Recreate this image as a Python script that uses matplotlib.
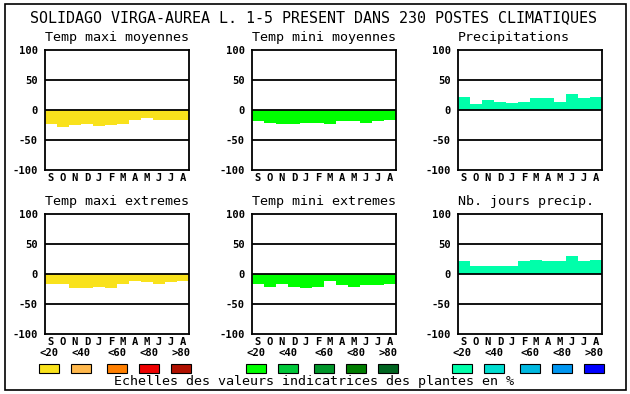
import numpy as np
import matplotlib
matplotlib.use("Agg")
import matplotlib.pyplot as plt
from matplotlib.patches import Rectangle

plt.rcParams['font.family'] = ['DejaVu Sans Mono']

W, H = 630, 394

months = ["S", "O", "N", "D", "J", "F", "M", "A", "M", "J", "J", "A"]
yticks = [100, 50, 0, -50, -100]

# values
tmax_moy = [-23, -28, -25, -23, -26, -25, -23, -17, -13, -17, -17, -17]
tmin_moy = [-18, -21, -23, -23, -21, -21, -23, -18, -18, -21, -18, -16]
precip = [22, 10, 17, 13, 12, 13, 20, 20, 13, 27, 20, 22]
tmax_ext = [-16, -16, -24, -24, -21, -24, -16, -11, -13, -16, -13, -11]
tmin_ext = [-16, -21, -16, -21, -24, -21, -12, -18, -21, -18, -18, -16]
nb_jours = [22, 14, 14, 14, 14, 22, 23, 22, 22, 30, 22, 23]

titles = ["Temp maxi moyennes", "Temp mini moyennes", "Precipitations",
          "Temp maxi extremes", "Temp mini extremes", "Nb. jours precip."]
series = [tmax_moy, tmin_moy, precip, tmax_ext, tmin_ext, nb_jours]

scale_labels = ["<20", "<40", "<60", "<80", ">80"]
scale_colors = [
    ["#f9e21c", "#ffb84c", "#ff7f00", "#ee0000", "#b01000"],
    ["#00ff00", "#00c83a", "#00962a", "#007d00", "#006420"],
    ["#00ffaa", "#00ddd0", "#00b8e0", "#0096f0", "#0000ff"],
]
bar_colors = ["#f9e21c", "#00ff00", "#00ffaa"]

fig = plt.figure(figsize=(W / 100, H / 100), dpi=100)


def px_axes(x0, y0, x1, y1):
    return fig.add_axes([x0 / W, 1 - y1 / H, (x1 - x0) / W, (y1 - y0) / H])


def fx(x):
    return x / W


def fy(y):
    return 1 - y / H


# outer frame
fig.patches.append(Rectangle((fx(5), fy(390)), fx(621), (386) / H, transform=fig.transFigure,
                             fill=False, edgecolor="black", lw=1.2))

fig.text(fx(314), fy(18), "SOLIDAGO VIRGA-AUREA L. 1-5 PRESENT DANS 230 POSTES CLIMATIQUES",
         ha="center", va="center", fontsize=10.8)

col_x = [45, 252, 458]
row_y = [50, 214]
aw, ah = 144, 120

for i, (vals, title) in enumerate(zip(series, titles)):
    r, c = divmod(i, 3)
    x0, y0 = col_x[c], row_y[r]
    ax = px_axes(x0, y0, x0 + aw, y0 + ah)
    ax.bar(np.arange(12), vals, width=1.0, align="edge", color=bar_colors[c],
           edgecolor="none", zorder=1)
    for g in [50, 0, -50]:
        ax.axhline(g, color="black", lw=1.3, zorder=2)
    ax.set_xlim(0, 12)
    ax.set_ylim(-100, 100)
    ax.set_yticks(yticks)
    ax.set_yticklabels([str(t) for t in yticks], fontsize=7.6, fontweight="bold")
    ax.set_xticks(np.arange(12) + 0.5)
    ax.set_xticklabels(months, fontsize=7.6, fontweight="bold")
    ax.tick_params(length=0, pad=5, axis="y")
    ax.tick_params(length=0, pad=2.5, axis="x")
    for s in ax.spines.values():
        s.set_linewidth(1.3)
    fig.text(fx(x0), fy(y0 - 12), title, ha="left", va="center", fontsize=9.6)

# colour scales
box_off = [-6, 26, 62, 94, 126]
for c in range(3):
    for k in range(5):
        bx = col_x[c] + box_off[k]
        fig.patches.append(Rectangle((fx(bx), fy(373)), 20 / W, 9 / H, transform=fig.transFigure,
                                     facecolor=scale_colors[c][k], edgecolor="black", lw=0.8))
        fig.text(fx(bx + 10), fy(353), scale_labels[k], ha="center", va="center",
                 fontsize=7.6, fontweight="bold")

fig.text(fx(314), fy(381), "Echelles des valeurs indicatrices des plantes en %",
         ha="center", va="center", fontsize=9.6)

fig.savefig("out.png", dpi=100, facecolor="white")
